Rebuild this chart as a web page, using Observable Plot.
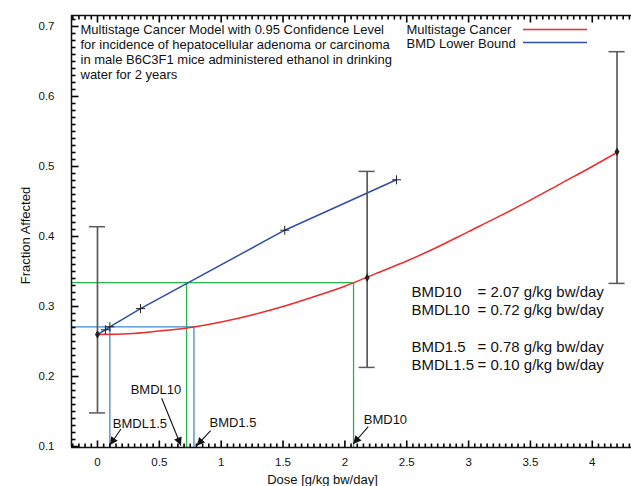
<!DOCTYPE html>
<html><head><meta charset="utf-8">
<script src="https://cdn.jsdelivr.net/npm/d3@7"></script>
<script src="https://cdn.jsdelivr.net/npm/@observablehq/plot@0.6"></script>
<style>
body{margin:0;background:#fff;}
#chart svg{font-family:"Liberation Sans",Arial,sans-serif;}
</style>
</head><body><div id="chart"></div>
<script>
// ---- data ----
const obsDose = [0, 2.18, 4.2];
const obsFrac = [0.26, 0.341, 0.521];
const obsLo = [0.148, 0.213, 0.333];
const obsHi = [0.414, 0.493, 0.664];

const curveDose = [0, 0.25, 0.5, 0.75, 1, 1.25, 1.5, 1.75, 2, 2.25, 2.5, 2.75, 3, 3.25, 3.5, 3.75, 4, 4.2];
const curveFrac = [0.260, 0.261, 0.265, 0.270, 0.278, 0.288, 0.300, 0.314, 0.329, 0.347, 0.365, 0.385, 0.407, 0.429, 0.452, 0.476, 0.500, 0.520];

const lbDose = [0, 0.064, 0.1, 0.348, 1.514, 2.417];
const lbFrac = [0.260, 0.2667, 0.271, 0.297, 0.409, 0.481];

const bmdNames = ["BMD10", "BMDL10", "BMD1.5", "BMDL1.5"];
const bmdValues = [2.07, 0.72, 0.78, 0.10];
const bmrLevels = [0.334, 0.334, 0.271, 0.271];

const xTickValues = [0, 0.5, 1, 1.5, 2, 2.5, 3, 3.5, 4];
const yTickValues = [0.1, 0.2, 0.3, 0.4, 0.5, 0.6, 0.7];

const titleLines = [
  "Multistage Cancer Model with 0.95 Confidence Level",
  "for incidence of hepatocellular adenoma or carcinoma",
  "in male B6C3F1 mice administered ethanol in drinking",
  "water for 2 years"
];
const legendNames = ["Multistage Cancer", "BMD Lower Bound"];
const xLabel = "Dose [g/kg bw/day]";
const yLabel = "Fraction Affected";

// ---- derived tables ----
const obs = obsDose.map((d, i) => ({dose: d, frac: obsFrac[i], lo: obsLo[i], hi: obsHi[i]}));
const curve = curveDose.map((d, i) => ({dose: d, frac: curveFrac[i]}));
const lb = lbDose.map((d, i) => ({dose: d, frac: lbFrac[i]}));
const bmd = bmdNames.map((n, i) => ({name: n, value: bmdValues[i], level: bmrLevels[i]}));

const W = 631, H = 486, ML = 71, MR = 0, MT = 15, MB = 39;
const xmin = -0.21, xmax = 4.317, ymin = 0.0986, ymax = 0.7157;
const pxX = (W - ML - MR) / (xmax - xmin);
const pxY = (H - MT - MB) / (ymax - ymin);
const xMinor = [];
for (let i = -4; i <= 86; i++) { const v = Math.round(i * 5) / 100; if (i % 10 !== 0) xMinor.push(v); }
const yMinor = [];
for (let i = 10; i <= 71; i++) { if (i % 10 !== 0) yMinor.push(i / 100); }

const RED = "#ee2b2b", BLUE = "#2f4fa6", GREEN = "#27b34b", LBLUE = "#3a8dd0", GRAY = "#5a5a5a";
const capHalf = 0.065;
const MAJ = 7, MIN = 4;

const green = bmd.filter(d => d.level === bmrLevels[0]);
const lblue = bmd.filter(d => d.level === bmrLevels[2]);
const maxOf = arr => d3.max(arr, d => d.value);

const fmtStat = v => "= " + v.toFixed(2) + " g/kg bw/day";

const annOffsets = {
  "BMDL1.5": {dx: 3, dy: -24, anchor: "start", tail: [11.6, -18], tip: [0.6, -2]},
  "BMDL10": {dx: -30.6, dy: -58, anchor: "middle", tail: [-24.4, -48.7], tip: [-5.1, -1.5]},
  "BMD1.5": {dx: 15.5, dy: -25, anchor: "start", tail: [17.2, -16.3], tip: [3.2, -1.3]},
  "BMD10": {dx: 10.2, dy: -28, anchor: "start", tail: [15.2, -20.3], tip: [0.2, -3]}
};

const annTextMarks = bmd.map(d => {
  const o = annOffsets[d.name];
  return Plot.text([d], {x: "value", y: ymin, text: "name", dx: o.dx, dy: o.dy, textAnchor: o.anchor, fontSize: 13, fill: "#111"});
});

// tick tables for Plot.link marks
const xTicksAll = [
  ...xTickValues.map(v => ({v, len: MAJ})),
  ...xMinor.map(v => ({v, len: MIN}))
];
const yTicksAll = [
  ...yTickValues.map(v => ({v, len: MAJ})),
  ...yMinor.map(v => ({v, len: MIN}))
];

const plot = Plot.plot({
  width: W,
  height: H,
  marginLeft: ML,
  marginRight: MR,
  marginTop: MT,
  marginBottom: MB,
  x: {domain: [xmin, xmax], label: null, axis: null},
  y: {domain: [ymin, ymax], label: null, axis: null},
  style: {fontFamily: "Liberation Sans, Arial, sans-serif", fontSize: "11.5px", background: "#fff", color: "#111", overflow: "visible"},
  marks: [
    // reference lines
    Plot.ruleY([bmrLevels[0]], {x1: xmin, x2: maxOf(green), stroke: GREEN, strokeWidth: 1.3}),
    Plot.ruleX(green, {x: "value", y1: ymin, y2: "level", stroke: GREEN, strokeWidth: 1.3}),
    Plot.ruleY([bmrLevels[2]], {x1: xmin, x2: maxOf(lblue), stroke: LBLUE, strokeWidth: 1.3}),
    Plot.ruleX(lblue, {x: "value", y1: ymin, y2: "level", stroke: LBLUE, strokeWidth: 1.3}),
    // model curves
    Plot.line(curve, {x: "dose", y: "frac", stroke: RED, strokeWidth: 1.5, curve: "monotone-x"}),
    Plot.line(lb, {x: "dose", y: "frac", stroke: BLUE, strokeWidth: 1.5}),
    Plot.dot(lb.slice(1), {x: "dose", y: "frac", symbol: "plus", r: 3, stroke: "#222", strokeWidth: 1}),
    // error bars
    Plot.ruleX(obs, {x: "dose", y1: "lo", y2: "hi", stroke: GRAY, strokeWidth: 1.7}),
    Plot.ruleY(obs, {y: "lo", x1: d => d.dose - capHalf, x2: d => d.dose + capHalf, stroke: GRAY, strokeWidth: 1.5}),
    Plot.ruleY(obs, {y: "hi", x1: d => d.dose - capHalf, x2: d => d.dose + capHalf, stroke: GRAY, strokeWidth: 1.5}),
    Plot.dot(obs, {x: "dose", y: "frac", symbol: "diamond", r: 2.6, fill: "#222"}),
    // inward ticks as links (length converted from pixels through the scale factor)
    Plot.link(xTicksAll, {x1: "v", x2: "v", y1: () => ymin, y2: d => ymin + d.len / pxY, stroke: "#000", strokeWidth: 1.6}),
    Plot.link(xTicksAll, {x1: "v", x2: "v", y1: () => ymax, y2: d => ymax - d.len / pxY, stroke: "#000", strokeWidth: 1.6}),
    Plot.link(yTicksAll, {y1: "v", y2: "v", x1: () => xmin, x2: d => xmin + d.len / pxX, stroke: "#000", strokeWidth: 1.6}),
    // frame lines
    Plot.ruleX([xmin], {stroke: "#111", strokeWidth: 1.5}),
    Plot.ruleY([ymin], {stroke: "#111", strokeWidth: 1.5}),
    Plot.ruleY([ymax], {stroke: "#111", strokeWidth: 1.5}),
    // tick labels
    Plot.axisX(xTickValues, {anchor: "bottom", tickSize: 0, tickPadding: 10, tickFormat: d => String(d), fontSize: 11.5, label: null}),
    Plot.axisY(yTickValues, {anchor: "left", tickSize: 0, tickPadding: 17, tickFormat: d3.format(".1f"), fontSize: 11.5, label: null}),
    // axis titles
    Plot.text([xLabel], {text: d => d, frameAnchor: "bottom", textAnchor: "middle", lineAnchor: "middle", dx: -29, dy: 32, fontSize: 13, fill: "#111"}),
    Plot.text([yLabel], {text: d => d, frameAnchor: "left", textAnchor: "middle", lineAnchor: "middle", dx: -46, dy: 4, rotate: -90, fontSize: 13, fill: "#111"}),
    // title block
    Plot.text([titleLines.join("\n")], {text: d => d, frameAnchor: "top-left", dx: 9, dy: 7.5, textAnchor: "start", lineAnchor: "top", fontSize: 13, lineHeight: 1.154, fill: "#111"}),
    // legend text
    Plot.text([legendNames.join("\n")], {text: d => d, frameAnchor: "top-left", dx: 335, dy: 8.5, textAnchor: "start", lineAnchor: "top", fontSize: 13, lineHeight: 1.09, fill: "#111"}),
    // stats
    Plot.text([[bmd[0].name, bmd[1].name, "", bmd[2].name, bmd[3].name].join("\n")], {text: d => d, frameAnchor: "top-left", dx: 340, dy: 268.5, textAnchor: "start", lineAnchor: "top", fontSize: 15, lineHeight: 1.22, fill: "#111"}),
    Plot.text([[fmtStat(bmd[0].value), fmtStat(bmd[1].value), "", fmtStat(bmd[2].value), fmtStat(bmd[3].value)].join("\n")], {text: d => d, frameAnchor: "top-left", dx: 406, dy: 268.5, textAnchor: "start", lineAnchor: "top", fontSize: 15, lineHeight: 1.22, fill: "#111"}),
    // annotation labels
    ...annTextMarks
  ]
});

document.getElementById("chart").appendChild(plot);

// legend swatches and annotation arrows (positions from the plot's scales)
const svg = d3.select(plot);
const sx = plot.scale("x"), sy = plot.scale("y");
const X = v => sx.apply(v), Y = v => sy.apply(v);
const bottomY = Y(ymin);

const defs = svg.append("defs");
defs.append("marker").attr("id", "ah").attr("viewBox", "0 0 10 10").attr("refX", 10).attr("refY", 5)
  .attr("markerWidth", 9).attr("markerHeight", 8).attr("markerUnits", "userSpaceOnUse").attr("orient", "auto")
  .append("path").attr("d", "M0,0L10,5L0,10z").attr("fill", "#111");

const legendY = [29.5, 42.5];
[RED, BLUE].forEach((c, i) => {
  svg.append("line").attr("x1", 523).attr("x2", 587).attr("y1", legendY[i]).attr("y2", legendY[i])
    .attr("stroke", c).attr("stroke-width", 1.5);
});

bmd.forEach(d => {
  const o = annOffsets[d.name];
  const bx = X(d.value), by = bottomY;
  svg.append("line")
    .attr("x1", bx + o.tail[0]).attr("y1", by + o.tail[1])
    .attr("x2", bx + o.tip[0]).attr("y2", by + o.tip[1])
    .attr("stroke", "#111").attr("stroke-width", 1.1).attr("marker-end", "url(#ah)");
});
</script>
</body></html>
